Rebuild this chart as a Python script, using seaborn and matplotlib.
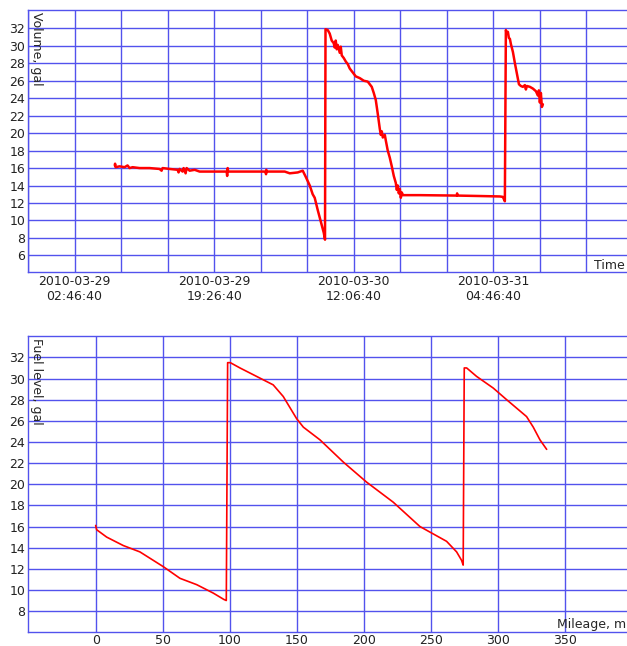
import datetime
import matplotlib
matplotlib.use("Agg")
import matplotlib.pyplot as plt
import seaborn as sns
import pandas as pd

# top chart: hours since 2010-03-29 02:46:40 and volume (gal)
time_hours = [4.81, 4.84, 4.90, 5.38, 5.97, 6.33, 6.57, 6.93, 7.77, 8.96,
              10.15, 10.39, 10.51, 11.35, 12.31, 12.42, 12.54, 12.90, 13.02, 13.26,
              13.38, 13.74, 14.34, 14.93, 16.73, 18.16, 18.22, 18.28, 18.34, 19.71,
              22.82, 22.86, 22.89, 22.94, 25.09, 25.69, 26.64, 27.24, 27.60, 28.08,
              28.43, 28.67, 29.03, 29.39, 29.75, 29.90, 29.96, 30.23, 30.46, 30.70,
              30.94, 31.06, 31.18, 31.30, 31.42, 31.66, 31.78, 31.90, 32.14, 32.38,
              32.62, 32.85, 33.09, 33.33, 33.57, 34.05, 34.53, 35.00, 35.24, 35.48,
              35.72, 35.96, 36.20, 36.44, 36.56, 36.68, 36.80, 37.04, 37.15, 37.39,
              37.63, 37.87, 38.11, 38.35, 38.47, 38.59, 38.71, 38.83, 38.95, 39.07,
              39.19, 39.31, 41.22, 45.64, 45.67, 45.71, 48.39, 50.77, 51.13, 51.37,
              51.49, 51.61, 51.73, 51.85, 51.97, 52.09, 52.33, 52.57, 52.81, 53.05,
              53.28, 53.52, 53.76, 53.88, 54.00, 54.36, 54.72, 55.08, 55.31, 55.43,
              55.55, 55.67, 55.79, 55.91]
volume = [16.3, 16.5, 16.1, 16.2, 16.1, 16.3, 16.0, 16.1, 16.0, 16.0,
          15.9, 15.7, 16.0, 15.9, 15.8, 15.5, 15.9, 15.6, 16.0, 15.4,
          16.0, 15.7, 15.8, 15.6, 15.6, 15.6, 15.1, 16.0, 15.6, 15.6,
          15.6, 15.3, 15.8, 15.6, 15.6, 15.4, 15.5, 15.7, 15.0, 14.0,
          13.0, 12.6, 11.2, 9.9, 8.6, 7.8, 31.9, 31.8, 31.4, 30.6,
          30.3, 29.8, 30.6, 29.6, 30.1, 29.2, 29.9, 28.9, 28.6, 28.2,
          27.9, 27.4, 27.1, 26.8, 26.5, 26.3, 26.0, 25.9, 25.6, 25.3,
          24.6, 23.8, 22.2, 20.5, 19.8, 20.2, 19.5, 19.8, 19.2, 18.0,
          17.2, 16.2, 15.1, 14.3, 13.5, 14.0, 13.1, 13.6, 12.6, 13.2,
          12.9, 12.9, 12.9, 12.85, 13.1, 12.85, 12.8, 12.75, 12.7, 12.2,
          31.8, 31.4, 31.6, 30.9, 30.8, 30.2, 29.3, 28.0, 26.8, 25.6,
          25.4, 25.3, 25.5, 25.0, 25.4, 25.3, 25.1, 24.8, 24.3, 24.9,
          23.5, 24.6, 23.0, 23.3]

# bottom chart: mileage and fuel level (gal)
mileage = [0.0, 0.7, 8.2, 20.6, 33.0, 50.5, 62.9, 75.4, 87.8, 95.7,
           97.5, 98.5, 100.5, 107.7, 120.1, 132.5, 140.0, 150.0, 155.0, 167.4,
           184.8, 202.2, 222.1, 242.0, 261.9, 269.4, 273.1, 274.3, 275.1, 276.9,
           284.3, 296.7, 306.7, 321.6, 326.6, 331.6, 336.6]
fuel_level = [16.1, 15.7, 15.0, 14.2, 13.6, 12.2, 11.1, 10.5, 9.7, 9.1,
              9.0, 31.5, 31.5, 31.0, 30.2, 29.4, 28.3, 26.2, 25.4, 24.2,
              22.1, 20.2, 18.3, 16.0, 14.6, 13.6, 12.8, 12.35, 31.0, 31.0,
              30.2, 29.1, 28.0, 26.4, 25.4, 24.2, 23.3]

time_start = datetime.datetime(2010, 3, 29, 2, 46, 40)

sns.set_style("white")
plt.rcParams['font.family'] = ['DejaVu Sans']

grid_color = (0.32, 0.32, 0.93)

fig = plt.figure(figsize=(6.27, 6.46), dpi=100)
ax1 = fig.add_axes([28 / 627, 374 / 646, 605 / 627, 262 / 646])
ax2 = fig.add_axes([28 / 627, 14.3 / 646, 617 / 627, 296 / 646])

df1 = pd.DataFrame({"t": [h * 3600 for h in time_hours], "v": volume})
sns.lineplot(data=df1, x="t", y="v", ax=ax1, color="red", lw=1.8,
             sort=False, estimator=None)
df2 = pd.DataFrame({"m": mileage, "f": fuel_level})
sns.lineplot(data=df2, x="m", y="f", ax=ax2, color="red", lw=1.2,
             sort=False, estimator=None)

# top axis ticks: grid every 20000 s, labels every 60000 s
xt = list(range(-20000, 240001, 20000))
xl = []
for t in xt:
    if 0 <= t <= 180000 and t % 60000 == 0:
        xl.append((time_start + datetime.timedelta(seconds=t)).strftime("%Y-%m-%d\n%H:%M:%S"))
    else:
        xl.append("")
ax1.set_xticks(xt)
ax1.set_xticklabels(xl)
ax1.set_xlim(-20000, 240000)
ax1.set_ylim(4.1, 34.1)
ax1.set_yticks(range(6, 33, 2))

mt = list(range(0, 401, 50))
ax2.set_xticks(mt)
ax2.set_xticklabels([str(m) if m <= 350 else "" for m in mt])
ax2.set_xlim(-50.5, 410)
ax2.set_ylim(6.05, 34.05)
ax2.set_yticks(range(8, 33, 2))

for ax in (ax1, ax2):
    ax.set_xlabel("")
    ax.set_ylabel("")
    ax.grid(True, color=grid_color, lw=1.0)
    ax.set_axisbelow(True)
    for s in ax.spines.values():
        s.set_color(grid_color)
        s.set_linewidth(1.0)
    ax.tick_params(length=0, labelsize=9, pad=2, colors="#222222")

ax1.text(0.003, 0.992, "Volume, gal", rotation=270, transform=ax1.transAxes,
         ha="left", va="top", fontsize=9)
ax1.text(0.936, 0.024, "Time", transform=ax1.transAxes,
         ha="left", va="center", fontsize=9)
ax2.text(0.003, 0.992, "Fuel level, gal", rotation=270, transform=ax2.transAxes,
         ha="left", va="top", fontsize=9)
ax2.text(0.857, 0.026, "Mileage, m", transform=ax2.transAxes,
         ha="left", va="center", fontsize=9)

plt.savefig("out.png", dpi=100)
